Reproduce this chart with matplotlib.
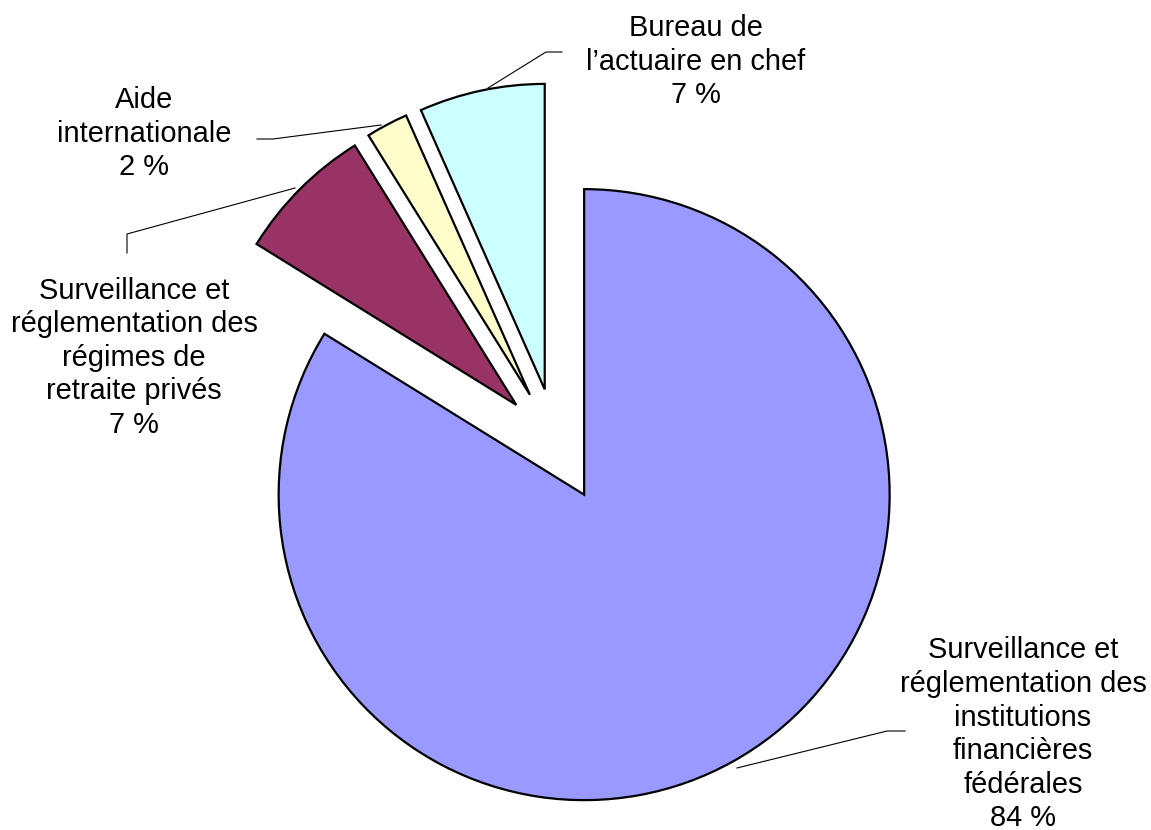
import matplotlib
matplotlib.use("Agg")
import matplotlib.pyplot as plt

# ---- data ----
categories = [
    "Surveillance et\nréglementation des\ninstitutions\nfinancières\nfédérales",
    "Surveillance et\nréglementation des\nrégimes de\nretraite privés",
    "Aide\ninternationale",
    "Bureau de\nl\u2019actuaire en chef",
]
values = [83.81, 7.31, 2.22, 6.64]
colors = ["#9999FF", "#993366", "#FFFFCC", "#CCFFFF"]
explode_frac = [0.186, 0.186, 0.186, 0.186]

# label anchors: centre x and last-line baseline (pixel coords, y from top)
label_pos = [(1023, 826), (134, 433), (144.5, 175), (696, 103)]
leaders = [
    [(737, 768), (887, 731), (905, 731)],
    [(127, 253), (127, 234), (295, 188)],
    [(257, 139), (273, 139), (381, 125)],
    [(488, 88), (546, 52), (562, 52)],
]

W, H = 1151, 830
fig = plt.figure(figsize=(W / 100, H / 100), dpi=100)
ax = fig.add_axes([0, 0, 1, 1])

cx, cy, r = 556.5, H - 445, 305.5
ax.pie(values, colors=colors, explode=[f * r for f in explode_frac],
       startangle=90, counterclock=False, center=(cx, cy), radius=r,
       wedgeprops=dict(edgecolor="black", linewidth=1.6))

ax.set_xlim(0, W)
ax.set_ylim(0, H)
ax.set_aspect("equal")
ax.axis("off")

for (x, y), cat, v in zip(label_pos, categories, values):
    ax.text(x, H - y, f"{cat}\n{round(v)} %", ha="center", va="baseline",
            fontsize=20.9, family=["Liberation Sans", "DejaVu Sans"],
            linespacing=1.25, color="black")

for pts in leaders:
    xs = [p[0] for p in pts]
    ys = [H - p[1] for p in pts]
    ax.plot(xs, ys, color="black", linewidth=0.8)

fig.savefig("out.png", dpi=100)
